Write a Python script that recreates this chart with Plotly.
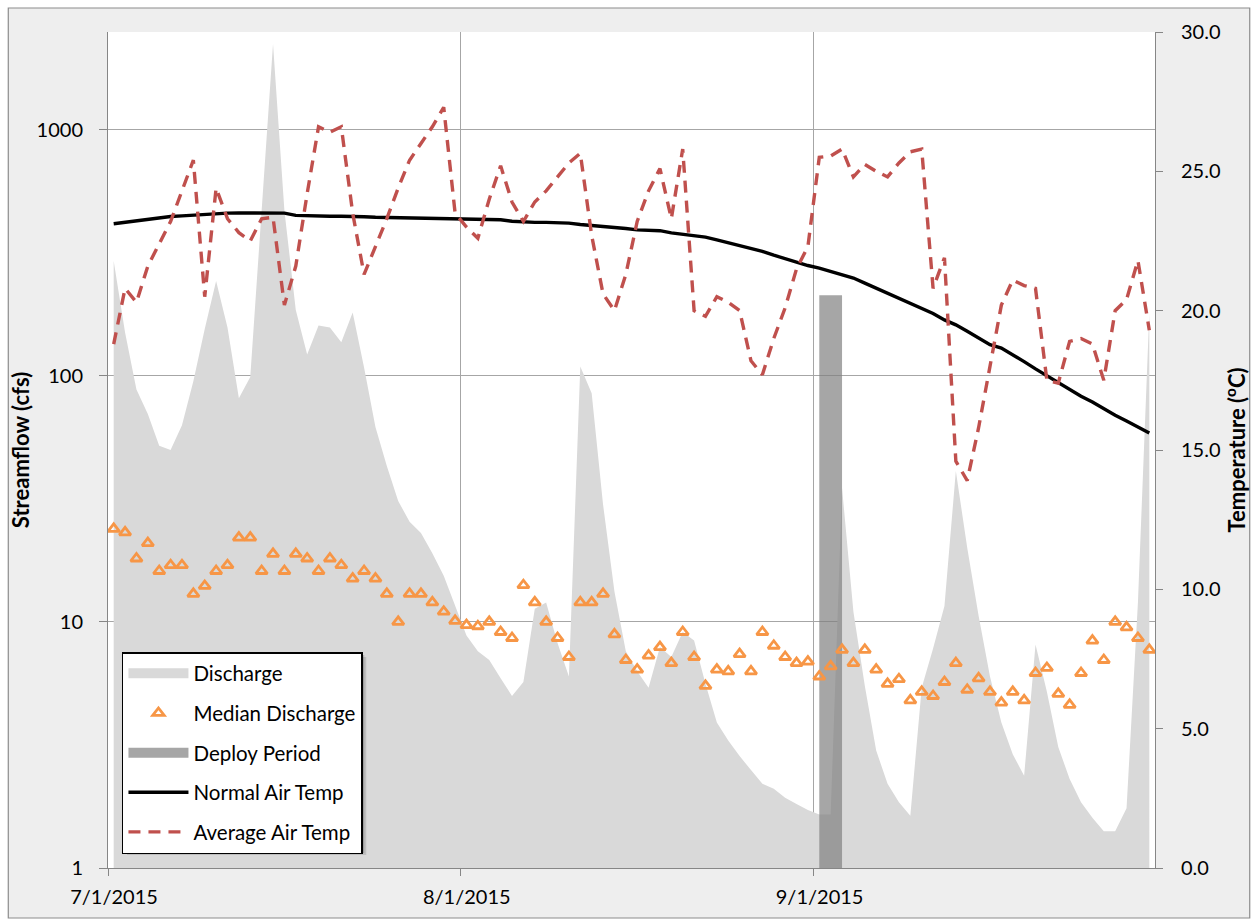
import pandas as pd
import plotly.graph_objects as go

# ---------------- data ----------------
dates = pd.date_range("2015-07-01 12:00", periods=92, freq="D")

discharge = [
    293, 150, 88, 70, 52, 50, 63, 95, 155, 243,
    157, 81, 99, 490, 2230, 470, 185, 122, 160, 157,
    137, 181, 108, 62, 43, 31, 25.5, 23, 19, 15.4,
    11.6, 8.8, 7.6, 7.0, 5.9, 5.0, 5.7, 11.3, 12.0, 8.2,
    6.0, 109, 85, 30, 13.3, 7.6, 6.3, 5.4, 7.9, 7.2,
    9.1, 8.4, 5.6, 3.9, 3.3, 2.85, 2.5, 2.2, 2.1, 1.93,
    1.82, 1.72, 1.65, 1.65, 35, 11, 5.5, 3.0, 2.2, 1.85,
    1.63, 5.4, 7.8, 11.6, 41, 20, 10.6, 6.0, 3.9, 2.9,
    2.37, 8.1, 5.2, 3.1, 2.3, 1.85, 1.6, 1.41, 1.41, 1.75,
    12, 180,
]

median_discharge = [
    23.9, 23.1, 18.1, 20.9, 16.1, 17.0, 17.0, 13.0, 14.0, 16.1,
    17.0, 22.0, 22.0, 16.1, 18.9, 16.1, 18.9, 18.1, 16.1, 18.1,
    17.0, 15.0, 16.1, 15.0, 13.0, 10.0, 13.0, 13.0, 12.0, 11.0,
    10.1, 9.7, 9.6, 10.0, 9.1, 8.6, 14.1, 12.0, 10.0, 8.6,
    7.2, 12.0, 12.0, 13.0, 8.9, 7.0, 6.4, 7.3, 7.9, 6.8,
    9.1, 7.2, 5.5, 6.4, 6.3, 7.4, 6.3, 9.1, 8.0, 7.2,
    6.8, 6.9, 6.0, 6.6, 7.7, 6.8, 7.7, 6.4, 5.6, 5.85,
    4.8, 5.2, 5.0, 5.7, 6.8, 5.3, 5.9, 5.2, 4.7, 5.2,
    4.8, 6.2, 6.5, 5.1, 4.6, 6.2, 8.4, 7.0, 10.0, 9.5,
    8.6, 7.7,
]

normal_air_temp = [
    23.12, 23.17, 23.22, 23.30, 23.35, 23.38, 23.40, 23.43, 23.46, 23.48,
    23.50, 23.51, 23.51, 23.51, 23.51, 23.50, 23.42, 23.40, 23.40, 23.39,
    23.39, 23.39, 23.37, 23.35, 23.34, 23.33, 23.32, 23.30, 23.29, 23.28,
    23.27, 23.27, 23.27, 23.27, 23.26, 23.21, 23.18, 23.17, 23.17, 23.16,
    23.14, 23.09, 23.06, 23.04, 23.00, 22.95, 22.90, 22.89, 22.87, 22.79,
    22.74, 22.69, 22.64, 22.54, 22.44, 22.34, 22.25, 22.13, 21.99, 21.86,
    21.74, 21.62, 21.53, 21.41, 21.30, 21.17, 20.99, 20.81, 20.62, 20.45,
    20.26, 20.08, 19.90, 19.67, 19.49, 19.26, 19.01, 18.78, 18.66, 18.43,
    18.17, 17.91, 17.66, 17.42, 17.18, 16.93, 16.72, 16.47, 16.25, 16.04,
    15.83, 15.61,
]

average_air_temp = [
    18.8, 20.8, 20.3, 21.6, 22.4, 23.2, 24.3, 25.4, 20.5, 24.4,
    23.3, 22.8, 22.5, 23.3, 23.35, 20.2, 21.6, 24.2, 26.6, 26.4,
    26.6, 23.5, 21.3, 22.3, 23.3, 24.4, 25.4, 26.0, 26.6, 27.3,
    23.5, 23.0, 22.6, 24.0, 25.2, 23.9, 23.2, 23.9, 24.3, 24.8,
    25.3, 25.65, 22.7, 20.6, 20.0, 21.3, 23.2, 24.3, 25.1, 23.3,
    25.8, 20.0, 19.8, 20.5, 20.3, 20.0, 18.2, 17.7, 19.0, 20.1,
    21.5, 22.3, 25.5, 25.55, 25.8, 24.8, 25.25, 25.0, 24.8, 25.3,
    25.7, 25.8, 20.8, 21.9, 14.6, 13.9, 15.8, 18.0, 20.2, 21.1,
    20.9, 20.8, 17.5, 17.4, 18.9, 19.0, 18.8, 17.5, 20.0, 20.4,
    21.8, 19.3,
]

deploy_dates = ["2015-09-02 12:00"]
deploy_value = [20.55]  # on the temperature (right) axis

x_tick_vals = ["2015-07-01", "2015-08-01", "2015-09-01"]
x_tick_text = ["7/1/2015", "8/1/2015", "9/1/2015"]
y_tick_vals = [1, 10, 100, 1000]
y_tick_text = ["1", "10", "100", "1000"]
y2_tick_vals = [0, 5, 10, 15, 20, 25, 30]

assert len(discharge) == len(median_discharge) == len(normal_air_temp) == len(average_air_temp) == 92

# ---------------- styling ----------------
FONT = "Lato, 'Open Sans', sans-serif"
W, H = 1254, 920
PL, PR, PT, PB = 108, 1158, 32, 868  # plot area in px
GRID = "#a6a6a6"
AXIS = "#868686"
LOG_RANGE = [0, 3.397]


def px_x(px):
    return (px - PL) / (PR - PL)


def px_y(py):
    return (PB - py) / (PB - PT)


fig = go.Figure()

# streamflow area (left log axis)
fig.add_trace(go.Scatter(
    x=dates, y=discharge, name="Discharge", mode="lines",
    fill="tozeroy", fillcolor="#d9d9d9", line=dict(width=0, color="#d9d9d9"),
    showlegend=False,
))
# deploy period column (right axis)
fig.add_trace(go.Bar(
    x=deploy_dates, y=deploy_value, name="Deploy Period", yaxis="y2",
    width=[2 * 86400000], marker=dict(color="rgba(128,128,128,0.7)", line=dict(width=0)),
    showlegend=False,
))
# temperatures (right axis)
fig.add_trace(go.Scatter(
    x=dates, y=normal_air_temp, name="Normal Air Temp", mode="lines", yaxis="y2",
    line=dict(color="#000000", width=3.4),
    legendgroup="g4", legendrank=4,
))
fig.add_trace(go.Scatter(
    x=dates, y=average_air_temp, name="Average Air Temp", mode="lines", yaxis="y2",
    line=dict(color="#c0504d", width=3.4, dash="12px,8px"),
    legendgroup="g5", legendrank=5,
))
# median discharge markers (log axis overlay, drawn on top)
fig.add_trace(go.Scatter(
    x=dates, y=median_discharge, name="Median Discharge", mode="markers", yaxis="y3",
    marker=dict(symbol="triangle-up-open", size=10, color="#f79646",
                line=dict(width=2.8, color="#f79646")),
    legendgroup="g2", legendrank=2,
))
# legend keys for the filled series
fig.add_trace(go.Scatter(
    x=[None], y=[None], name="Discharge", mode="lines",
    line=dict(color="#d9d9d9", width=12), legendgroup="g1", legendrank=1,
))
fig.add_trace(go.Scatter(
    x=[None], y=[None], name="Deploy Period", mode="lines",
    line=dict(color="#a6a6a6", width=12), legendgroup="g3", legendrank=3,
))

tick_font = dict(family=FONT, size=20, color="#000000")
title_font = dict(family=FONT, size=22, color="#000000", weight="bold")

fig.update_layout(
    width=W, height=H, autosize=False,
    margin=dict(l=PL, r=W - PR, t=PT, b=H - PB, pad=0),
    paper_bgcolor="#ffffff", plot_bgcolor="#ffffff",
    font=dict(family=FONT, color="#000000"),
    barmode="overlay",
    xaxis=dict(
        type="date", range=["2015-07-01", "2015-10-01"],
        tickmode="array", tickvals=x_tick_vals, ticktext=x_tick_text,
        showgrid=True, gridcolor=GRID, gridwidth=1,
        showline=True, linecolor=AXIS, linewidth=1,
        ticks="outside", ticklen=7, tickcolor=AXIS,
        tickfont=tick_font, ticklabelshift=6, ticklabelstandoff=4,
        zeroline=False,
    ),
    yaxis=dict(
        type="log", range=LOG_RANGE,
        tickmode="array", tickvals=y_tick_vals, ticktext=y_tick_text,
        showgrid=True, gridcolor=GRID, gridwidth=1,
        showline=True, linecolor=AXIS, linewidth=1,
        ticks="outside", ticklen=8, tickcolor=AXIS,
        tickfont=tick_font, ticklabelstandoff=12,
        zeroline=False,
        title=dict(text="Streamflow (cfs)", font=title_font, standoff=0),
    ),
    yaxis2=dict(
        overlaying="y", side="right", range=[0, 30],
        tickmode="array", tickvals=y2_tick_vals, tickformat=".1f",
        showgrid=False, showline=True, linecolor=AXIS, linewidth=1,
        ticks="outside", ticklen=7, tickcolor=AXIS,
        tickfont=tick_font, ticklabelstandoff=14,
        zeroline=False,
        title=dict(text="Temperature (<sup>o</sup>C)", font=title_font, standoff=6),
    ),
    yaxis3=dict(
        overlaying="y", type="log", range=LOG_RANGE, visible=False,
    ),
    legend=dict(
        x=px_x(122), y=px_y(652), xanchor="left", yanchor="top",
        bgcolor="#ffffff", bordercolor="#000000", borderwidth=1.5,
        font=dict(family=FONT, size=20.5, color="#000000"),
        itemwidth=60, tracegroupgap=10, traceorder="grouped",
    ),
    shapes=[
        # chart area with grey backdrop and border
        dict(type="rect", xref="paper", yref="paper", layer="below",
             x0=px_x(8), x1=px_x(1253), y0=px_y(918), y1=px_y(8),
             fillcolor="#eeeeee", line=dict(color="#8c8c8c", width=1.2)),
        # plot area
        dict(type="rect", xref="paper", yref="paper", layer="below",
             x0=0, x1=1, y0=0, y1=1, fillcolor="#ffffff", line=dict(width=0)),
        # legend soft shadow
        dict(type="rect", xref="paper", yref="paper", layer="above",
             x0=px_x(127), x1=px_x(367), y0=px_y(855), y1=px_y(657),
             fillcolor="rgba(0,0,0,0.12)", line=dict(width=0)),
        dict(type="rect", xref="paper", yref="paper", layer="above",
             x0=px_x(125), x1=px_x(365), y0=px_y(853), y1=px_y(655),
             fillcolor="rgba(0,0,0,0.18)", line=dict(width=0)),
    ],
)

fig.write_html("out.html")
